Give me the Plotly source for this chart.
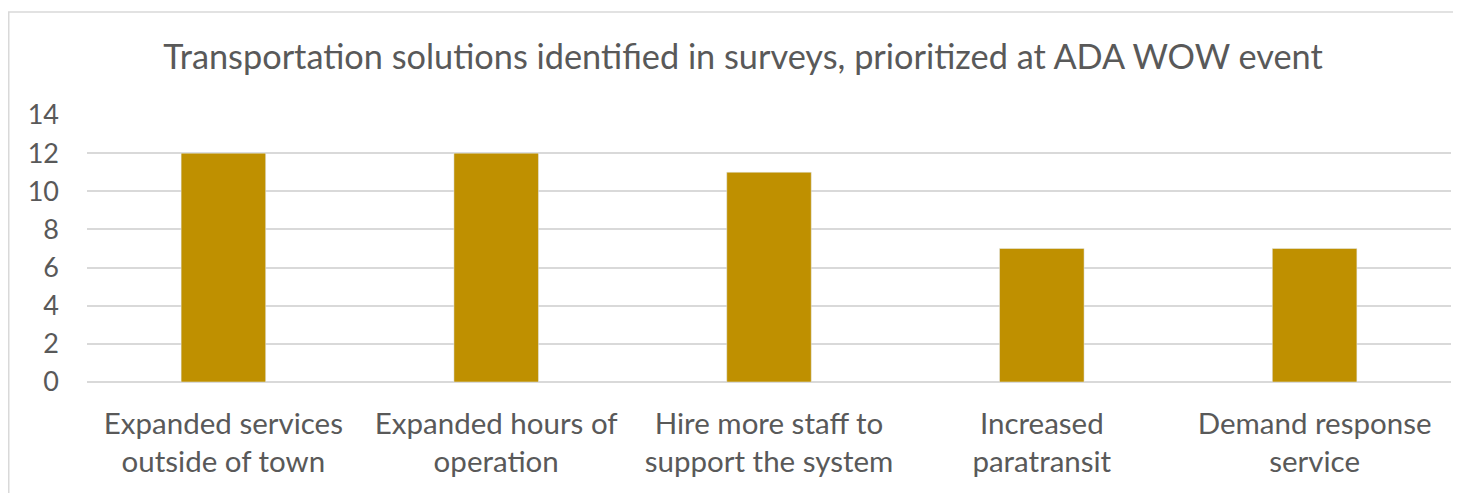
import plotly.graph_objects as go

categories = ["Expanded services<br>outside of town", "Expanded hours of<br>operation",
              "Hire more staff to<br>support the system", "Increased<br>paratransit",
              "Demand response<br>service"]
values = [12, 12, 11, 7, 7]
y_ticks = [0, 2, 4, 6, 8, 10, 12, 14]

# page body has 8px default margin; figure sized/offset to compensate
W, H = 1453, 485
L, R, T, B = 79, 10, 107, 111
pw = W - L - R
ph = H - T - B

fig = go.Figure(go.Bar(x=categories, y=values, marker_color="#BF9000", width=0.31))

font_family = "Lato, 'Open Sans', sans-serif"
fig.update_layout(
    width=W, height=H,
    margin=dict(l=L, r=R, t=T, b=B),
    plot_bgcolor="white", paper_bgcolor="white",
    font=dict(family=font_family, color="#595959"),
    title=dict(text="Transportation solutions identified in surveys, prioritized at ADA WOW event",
               x=735 / W, xanchor="center", y=1 - 49 / H, yanchor="middle",
               font=dict(size=34.3, color="#595959")),
    xaxis=dict(tickfont=dict(size=29.5), showgrid=False, showline=False, ticks="",
               ticklabelstandoff=21),
    yaxis=dict(range=[0, 14], tickvals=y_ticks, tickfont=dict(size=27),
               showgrid=True, gridcolor="#D9D9D9", gridwidth=1.5, zeroline=True,
               zerolinecolor="#D9D9D9", zerolinewidth=1.5, ticks="", ticklabelstandoff=27),
    bargap=0.69,
    showlegend=False,
)
fig.add_shape(type="rect", xref="paper", yref="paper",
              x0=(0.75 - L) / pw, x1=1.05, y0=-0.6, y1=(H - B - 4) / ph,
              line=dict(color="#D9D9D9", width=1.5), fillcolor="rgba(0,0,0,0)", layer="below")
fig.write_html("out.html")
